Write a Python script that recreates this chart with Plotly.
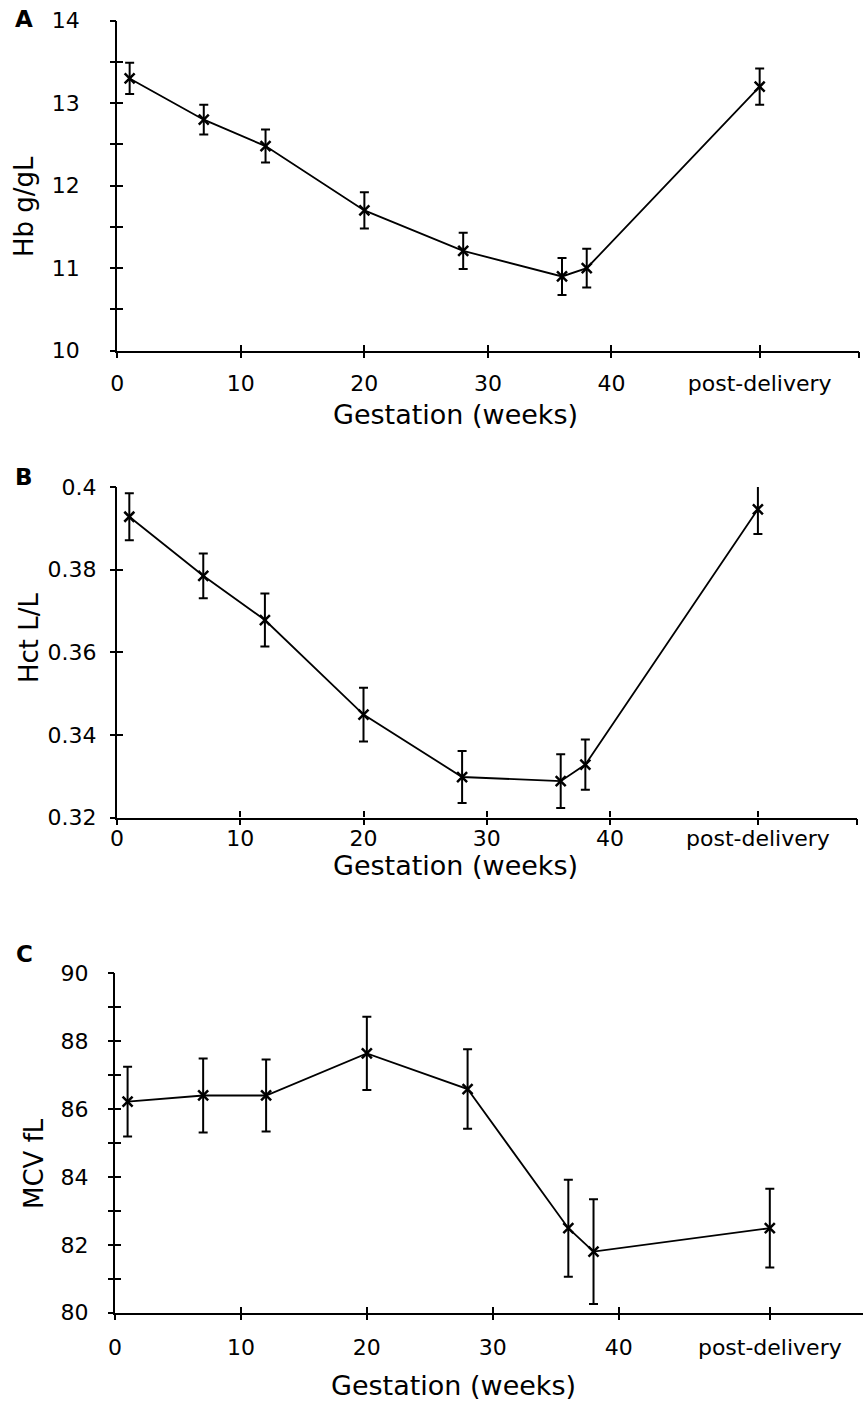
import plotly.graph_objects as go

# ---- data ----
weeks = [1, 7, 12, 20, 28, 36, 38, 52]

hb = [13.30, 12.80, 12.48, 11.70, 11.21, 10.90, 11.00, 13.20]
hb_err = [0.19, 0.18, 0.20, 0.22, 0.22, 0.225, 0.235, 0.22]

hct = [0.3928, 0.3785, 0.3678, 0.3449, 0.3298, 0.3288, 0.3328, 0.3946]
hct_err = [0.0057, 0.0054, 0.0064, 0.0065, 0.0063, 0.0065, 0.0061, 0.0060]

mcv = [86.22, 86.40, 86.40, 87.64, 86.59, 82.49, 81.80, 82.49]
mcv_err = [1.03, 1.09, 1.06, 1.08, 1.17, 1.43, 1.54, 1.16]

x_tickvals = [0, 10, 20, 30, 40, 52, 60]
x_ticktext = ["0", "10", "20", "30", "40", "post-delivery", ""]
x_tickvals_c = [0, 10, 20, 30, 40, 52]
x_ticktext_c = ["0", "10", "20", "30", "40", "post-delivery"]

hb_tickvals = [10, 10.5, 11, 11.5, 12, 12.5, 13, 13.5, 14]
hb_ticktext = ["10", "", "11", "", "12", "", "13", "", "14"]
hct_tickvals = [0.32, 0.34, 0.36, 0.38, 0.40]
hct_ticktext = ["0.32", "0.34", "0.36", "0.38", "0.4"]
mcv_tickvals = [80, 81, 82, 83, 84, 85, 86, 87, 88, 89, 90]
mcv_ticktext = ["80", "", "82", "", "84", "", "86", "", "88", "", "90"]

panel_letters = ["A", "B", "C"]
y_titles = ["Hb g/gL", "Hct L/L", "MCV fL"]
x_title = "Gestation (weeks)"

W, H = 863, 1404
FONT = "DejaVu Sans"

def px(x):
    return x / W

def py(y):
    return 1 - y / H

panels = [
    dict(series=hb, err=hb_err, yr=[10, 14], ytv=hb_tickvals, ytt=hb_ticktext,
         xdom=[px(117.3), px(858.5)], xr=[0, 60], xtv=x_tickvals, xtt=x_ticktext,
         ydom=[py(350.7), py(20.7)], xstand=12, ystand=31),
    dict(series=hct, err=hct_err, yr=[0.32, 0.40], ytv=hct_tickvals, ytt=hct_ticktext,
         xdom=[px(117), px(856.5)], xr=[0, 60], xtv=x_tickvals, xtt=x_ticktext,
         ydom=[py(817.5), py(487)], xstand=0, ystand=14),
    dict(series=mcv, err=mcv_err, yr=[80, 90], ytv=mcv_tickvals, ytt=mcv_ticktext,
         xdom=[px(115), 1.0], xr=[0, 59.4], xtv=x_tickvals_c, xtt=x_ticktext_c,
         ydom=[py(1312.7), py(973.3)], xstand=14, ystand=20),
]

fig = go.Figure()
layout = dict(
    width=W, height=H, autosize=False,
    margin=dict(l=0, r=0, t=0, b=0, pad=0),
    paper_bgcolor="white", plot_bgcolor="rgba(0,0,0,0)",
    showlegend=False,
    font=dict(family=FONT, size=22, color="black"),
)

for i, p in enumerate(panels):
    n = i + 1
    on = i + 4
    xa = "x" if n == 1 else f"x{n}"
    ya = "y" if n == 1 else f"y{n}"
    xo, yo = f"x{on}", f"y{on}"
    xkey = "xaxis" if n == 1 else f"xaxis{n}"
    ykey = "yaxis" if n == 1 else f"yaxis{n}"

    common_x = dict(range=p["xr"], tickvals=p["xtv"], showgrid=False, zeroline=False,
                    fixedrange=True, automargin=False)
    common_y = dict(range=p["yr"], tickvals=p["ytv"], showgrid=False, zeroline=False,
                    fixedrange=True, automargin=False)

    # main axes: labels + inside half of the crossing ticks
    layout[xkey] = dict(domain=p["xdom"], anchor=ya, ticktext=p["xtt"], ticks="inside",
                        ticklen=6, tickwidth=2, tickcolor="black", showline=True,
                        linecolor="black", linewidth=2.2, ticklabelstandoff=p["xstand"],
                        tickfont=dict(family=FONT, size=22, color="black"), **common_x)
    layout[ykey] = dict(domain=p["ydom"], anchor=xa, ticktext=p["ytt"], ticks="inside",
                        ticklen=6, tickwidth=2, tickcolor="black", showline=True,
                        linecolor="black", linewidth=2.2, ticklabelstandoff=p["ystand"],
                        tickfont=dict(family=FONT, size=22, color="black"), **common_y)
    # overlay axes: outside half of the crossing ticks
    layout[f"xaxis{on}"] = dict(overlaying=xa, anchor=ya, side="bottom", ticks="outside",
                                ticklen=6, tickwidth=2, tickcolor="black",
                                showticklabels=False, showline=False, **common_x)
    layout[f"yaxis{on}"] = dict(overlaying=ya, anchor=xa, side="left", ticks="outside",
                                ticklen=6, tickwidth=2, tickcolor="black",
                                showticklabels=False, showline=False, **common_y)

    fig.add_trace(go.Scatter(
        x=weeks, y=p["series"], mode="lines", xaxis=xo, yaxis=yo,
        line=dict(color="black", width=1.8), hoverinfo="skip"))
    fig.add_trace(go.Scatter(
        x=weeks, y=p["series"], mode="markers", xaxis=xa, yaxis=ya,
        marker=dict(symbol="x-thin", size=10, color="black",
                    line=dict(color="black", width=2.5)),
        error_y=dict(type="data", array=p["err"], visible=True, color="black",
                     thickness=2, width=4.5),
        hoverinfo="skip"))

annotations = []
letter_pos = [(24, 19.5), (24, 477), (24, 954)]
for (lx, ly), t in zip(letter_pos, panel_letters):
    annotations.append(dict(text=f"<b>{t}</b>", x=px(lx), y=py(ly), xref="paper", yref="paper",
                            showarrow=False, xanchor="center", yanchor="middle",
                            font=dict(family=FONT, size=23, color="black")))
ytitle_pos = [(24, 207), (29, 638), (34, 1164)]
for (lx, ly), t in zip(ytitle_pos, y_titles):
    annotations.append(dict(text=t, x=px(lx), y=py(ly), xref="paper", yref="paper",
                            showarrow=False, xanchor="center", yanchor="middle", textangle=-90,
                            font=dict(family=FONT, size=26, color="black")))
xtitle_pos = [(455, 414), (455, 866), (453, 1385)]
for (lx, ly) in xtitle_pos:
    annotations.append(dict(text=x_title, x=px(lx), y=py(ly), xref="paper", yref="paper",
                            showarrow=False, xanchor="center", yanchor="middle",
                            font=dict(family=FONT, size=27, color="black")))
layout["annotations"] = annotations

fig.update_layout(**layout)
fig.write_html(
    "out.html",
    config={"displayModeBar": False},
    post_script="document.body.style.margin='0px';document.body.style.overflow='hidden';",
)
